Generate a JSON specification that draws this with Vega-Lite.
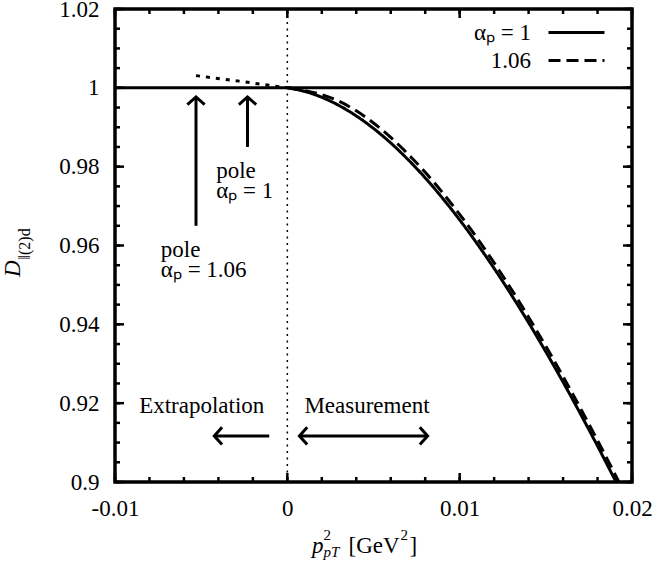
{
  "$schema": "https://vega.github.io/schema/vega-lite/v6.json",
  "width": 517,
  "height": 473,
  "autosize": {"type": "none"},
  "padding": {"left": 115, "top": 9, "right": 23, "bottom": 85},
  "background": "white",
  "config": {
    "font": "Liberation Serif",
    "view": {"stroke": "black", "strokeWidth": 3.5},
    "axis": {"domain": false, "grid": false, "title": null, "ticks": false, "labelColor": "black", "labelFont": "Liberation Serif", "labelFontSize": 23, "labelFlush": false, "labelOverlap": false, "labelBound": false}
  },
  "resolve": {"axis": {"x": "independent", "y": "independent"}},
  "datasets": {
    "curves": [
      {"series": "αₚ = 1", "x": 0, "y": 1},
      {"series": "αₚ = 1", "x": 0.001, "y": 0.9991},
      {"series": "αₚ = 1", "x": 0.002, "y": 0.9976},
      {"series": "αₚ = 1", "x": 0.003, "y": 0.99552},
      {"series": "αₚ = 1", "x": 0.004, "y": 0.99288},
      {"series": "αₚ = 1", "x": 0.005, "y": 0.9897},
      {"series": "αₚ = 1", "x": 0.006, "y": 0.98601},
      {"series": "αₚ = 1", "x": 0.007, "y": 0.98182},
      {"series": "αₚ = 1", "x": 0.008, "y": 0.97716},
      {"series": "αₚ = 1", "x": 0.009, "y": 0.97204},
      {"series": "αₚ = 1", "x": 0.01, "y": 0.9665},
      {"series": "αₚ = 1", "x": 0.011, "y": 0.96054},
      {"series": "αₚ = 1", "x": 0.012, "y": 0.95419},
      {"series": "αₚ = 1", "x": 0.013, "y": 0.94748},
      {"series": "αₚ = 1", "x": 0.014, "y": 0.94042},
      {"series": "αₚ = 1", "x": 0.015, "y": 0.93303},
      {"series": "αₚ = 1", "x": 0.016, "y": 0.92535},
      {"series": "αₚ = 1", "x": 0.017, "y": 0.91737},
      {"series": "αₚ = 1", "x": 0.018, "y": 0.90914},
      {"series": "αₚ = 1", "x": 0.019, "y": 0.90067},
      {"series": "αₚ = 1", "x": 0.01908, "y": 0.9},
      {"series": "1.06", "x": 0, "y": 1},
      {"series": "1.06", "x": 0.001, "y": 0.9993},
      {"series": "1.06", "x": 0.002, "y": 0.99826},
      {"series": "1.06", "x": 0.003, "y": 0.99659},
      {"series": "1.06", "x": 0.004, "y": 0.99417},
      {"series": "1.06", "x": 0.005, "y": 0.99107},
      {"series": "1.06", "x": 0.006, "y": 0.98741},
      {"series": "1.06", "x": 0.007, "y": 0.98322},
      {"series": "1.06", "x": 0.008, "y": 0.97856},
      {"series": "1.06", "x": 0.009, "y": 0.97344},
      {"series": "1.06", "x": 0.01, "y": 0.9679},
      {"series": "1.06", "x": 0.011, "y": 0.96194},
      {"series": "1.06", "x": 0.012, "y": 0.95559},
      {"series": "1.06", "x": 0.013, "y": 0.94888},
      {"series": "1.06", "x": 0.014, "y": 0.94182},
      {"series": "1.06", "x": 0.015, "y": 0.93443},
      {"series": "1.06", "x": 0.016, "y": 0.92675},
      {"series": "1.06", "x": 0.017, "y": 0.91877},
      {"series": "1.06", "x": 0.018, "y": 0.91054},
      {"series": "1.06", "x": 0.019, "y": 0.90207},
      {"series": "1.06", "x": 0.01924, "y": 0.9}
    ],
    "extrap": [
      {"x": -0.0053, "y": 1.0031},
      {"x": -0.0028, "y": 1.0017},
      {"x": 0, "y": 1}
    ],
    "arrows": [
      {"x": -0.0053, "y": 0.965, "x2": -0.0053, "y2": 0.9977},
      {"x": -0.00231, "y": 0.985, "x2": -0.00231, "y2": 0.9977},
      {"x": -0.00105, "y": 0.91168, "x2": -0.00424, "y2": 0.91168},
      {"x": 0.0007, "y": 0.91168, "x2": 0.00814, "y2": 0.91168}
    ],
    "heads": [
      {"x": -0.0053, "y": 0.9977, "dir": "up"},
      {"x": -0.00231, "y": 0.9977, "dir": "up"},
      {"x": -0.00424, "y": 0.91168, "dir": "left"},
      {"x": 0.0007, "y": 0.91168, "dir": "left"},
      {"x": 0.00814, "y": 0.91168, "dir": "right"}
    ],
    "notes": [
      {"x": -0.00413, "y": 0.97716, "label": ["pole", "αₚ = 1"]},
      {"x": -0.00734, "y": 0.95698, "label": ["pole", "αₚ = 1.06"]},
      {"x": -0.0086, "y": 0.91751, "label": "Extrapolation"},
      {"x": 0.00099, "y": 0.91751, "label": "Measurement"}
    ],
    "xmajor": [{"v": -0.01}, {"v": 0}, {"v": 0.01}, {"v": 0.02}],
    "xminor": [{"v": -0.01}, {"v": -0.008}, {"v": -0.006}, {"v": -0.004}, {"v": -0.002}, {"v": 0}, {"v": 0.002}, {"v": 0.004}, {"v": 0.006}, {"v": 0.008}, {"v": 0.01}, {"v": 0.012}, {"v": 0.014}, {"v": 0.016}, {"v": 0.018}, {"v": 0.02}],
    "ymajor": [{"v": 0.9}, {"v": 0.92}, {"v": 0.94}, {"v": 0.96}, {"v": 0.98}, {"v": 1}, {"v": 1.02}],
    "yminor": [{"v": 0.9}, {"v": 0.905}, {"v": 0.91}, {"v": 0.915}, {"v": 0.92}, {"v": 0.925}, {"v": 0.93}, {"v": 0.935}, {"v": 0.94}, {"v": 0.945}, {"v": 0.95}, {"v": 0.955}, {"v": 0.96}, {"v": 0.965}, {"v": 0.97}, {"v": 0.975}, {"v": 0.98}, {"v": 0.985}, {"v": 0.99}, {"v": 0.995}, {"v": 1}, {"v": 1.005}, {"v": 1.01}, {"v": 1.015}, {"v": 1.02}]
  },
  "layer": [
    {
      "data": {"name": "curves"},
      "mark": {"type": "line", "color": "black", "strokeWidth": 3, "interpolate": "monotone", "clip": true},
      "encoding": {
        "x": {"field": "x", "type": "quantitative", "scale": {"domain": [-0.01, 0.02], "nice": false, "zero": false},
          "axis": {"orient": "bottom", "values": [-0.01, 0, 0.01, 0.02], "labelExpr": "replace(format(datum.value, '~g'), '−', '-')", "labelPadding": 15, "labelFont": "Liberation Serif", "labelFontSize": 23}},
        "y": {"field": "y", "type": "quantitative", "scale": {"domain": [0.9, 1.02], "nice": false, "zero": false},
          "axis": {"orient": "left", "values": [0.9, 0.92, 0.94, 0.96, 0.98, 1, 1.02], "labelExpr": "format(datum.value, '~g')", "labelPadding": 16, "labelFont": "Liberation Serif", "labelFontSize": 23}},
        "strokeDash": {"field": "series", "type": "nominal", "scale": {"domain": ["αₚ = 1", "1.06"], "range": [[1, 0], [12, 6]]},
          "legend": {"title": null, "orient": "none", "legendX": 446, "legendY": 8, "symbolType": "M-2,0L2,0", "symbolSize": 784, "symbolStrokeWidth": 3, "symbolStrokeColor": "black", "symbolOpacity": 1, "labelFont": "Liberation Serif", "labelFontSize": 23, "labelColor": "black", "labelAlign": "right", "labelOffset": -61, "rowPadding": -1, "padding": 0}}
      }
    },
    {
      "data": {"name": "extrap"},
      "mark": {"type": "line", "color": "black", "strokeWidth": 3, "strokeDash": [4, 6]},
      "encoding": {
        "x": {"field": "x", "type": "quantitative", "scale": {"domain": [-0.01, 0.02], "nice": false, "zero": false}, "axis": null},
        "y": {"field": "y", "type": "quantitative", "scale": {"domain": [0.9, 1.02], "nice": false, "zero": false}, "axis": null}
      }
    },
    {
      "data": {"name": "xmajor"},
      "mark": {"type": "tick", "orient": "vertical", "size": 9, "thickness": 2.5, "color": "black", "opacity": 1, "yOffset": -4.5},
      "encoding": {
        "x": {"field": "v", "type": "quantitative", "scale": {"domain": [-0.01, 0.02], "nice": false, "zero": false}, "axis": null},
        "y": {"datum": 0.9, "type": "quantitative", "scale": {"domain": [0.9, 1.02], "nice": false, "zero": false}, "axis": null}
      }
    },
    {
      "data": {"name": "xmajor"},
      "mark": {"type": "tick", "orient": "vertical", "size": 9, "thickness": 2.5, "color": "black", "opacity": 1, "yOffset": 4.5},
      "encoding": {
        "x": {"field": "v", "type": "quantitative", "scale": {"domain": [-0.01, 0.02], "nice": false, "zero": false}, "axis": null},
        "y": {"datum": 1.02, "type": "quantitative", "scale": {"domain": [0.9, 1.02], "nice": false, "zero": false}, "axis": null}
      }
    },
    {
      "data": {"name": "xminor"},
      "mark": {"type": "tick", "orient": "vertical", "size": 5, "thickness": 2.5, "color": "black", "opacity": 1, "yOffset": -2.5},
      "encoding": {
        "x": {"field": "v", "type": "quantitative", "scale": {"domain": [-0.01, 0.02], "nice": false, "zero": false}, "axis": null},
        "y": {"datum": 0.9, "type": "quantitative", "scale": {"domain": [0.9, 1.02], "nice": false, "zero": false}, "axis": null}
      }
    },
    {
      "data": {"name": "xminor"},
      "mark": {"type": "tick", "orient": "vertical", "size": 5, "thickness": 2.5, "color": "black", "opacity": 1, "yOffset": 2.5},
      "encoding": {
        "x": {"field": "v", "type": "quantitative", "scale": {"domain": [-0.01, 0.02], "nice": false, "zero": false}, "axis": null},
        "y": {"datum": 1.02, "type": "quantitative", "scale": {"domain": [0.9, 1.02], "nice": false, "zero": false}, "axis": null}
      }
    },
    {
      "data": {"name": "ymajor"},
      "mark": {"type": "tick", "orient": "horizontal", "size": 9, "thickness": 2.5, "color": "black", "opacity": 1, "xOffset": 4.5},
      "encoding": {
        "y": {"field": "v", "type": "quantitative", "scale": {"domain": [0.9, 1.02], "nice": false, "zero": false}, "axis": null},
        "x": {"datum": -0.01, "type": "quantitative", "scale": {"domain": [-0.01, 0.02], "nice": false, "zero": false}, "axis": null}
      }
    },
    {
      "data": {"name": "ymajor"},
      "mark": {"type": "tick", "orient": "horizontal", "size": 9, "thickness": 2.5, "color": "black", "opacity": 1, "xOffset": -4.5},
      "encoding": {
        "y": {"field": "v", "type": "quantitative", "scale": {"domain": [0.9, 1.02], "nice": false, "zero": false}, "axis": null},
        "x": {"datum": 0.02, "type": "quantitative", "scale": {"domain": [-0.01, 0.02], "nice": false, "zero": false}, "axis": null}
      }
    },
    {
      "data": {"name": "yminor"},
      "mark": {"type": "tick", "orient": "horizontal", "size": 5, "thickness": 2.5, "color": "black", "opacity": 1, "xOffset": 2.5},
      "encoding": {
        "y": {"field": "v", "type": "quantitative", "scale": {"domain": [0.9, 1.02], "nice": false, "zero": false}, "axis": null},
        "x": {"datum": -0.01, "type": "quantitative", "scale": {"domain": [-0.01, 0.02], "nice": false, "zero": false}, "axis": null}
      }
    },
    {
      "data": {"name": "yminor"},
      "mark": {"type": "tick", "orient": "horizontal", "size": 5, "thickness": 2.5, "color": "black", "opacity": 1, "xOffset": -2.5},
      "encoding": {
        "y": {"field": "v", "type": "quantitative", "scale": {"domain": [0.9, 1.02], "nice": false, "zero": false}, "axis": null},
        "x": {"datum": 0.02, "type": "quantitative", "scale": {"domain": [-0.01, 0.02], "nice": false, "zero": false}, "axis": null}
      }
    },
    {
      "data": {"name": "arrows"},
      "mark": {"type": "rule", "color": "black", "strokeWidth": 3},
      "encoding": {
        "x": {"field": "x", "type": "quantitative", "scale": {"domain": [-0.01, 0.02], "nice": false, "zero": false}, "axis": null},
        "x2": {"field": "x2"},
        "y": {"field": "y", "type": "quantitative", "scale": {"domain": [0.9, 1.02], "nice": false, "zero": false}, "axis": null},
        "y2": {"field": "y2"}
      }
    },
    {
      "data": {"name": "heads"},
      "transform": [{"filter": "datum.dir === 'up'"}],
      "mark": {"type": "point", "shape": "M-1,0.9L0,0L1,0.9", "filled": false, "stroke": "black", "strokeWidth": 3, "strokeJoin": "miter", "size": 300, "opacity": 1, "angle": 0},
      "encoding": {
        "x": {"field": "x", "type": "quantitative", "scale": {"domain": [-0.01, 0.02], "nice": false, "zero": false}, "axis": null},
        "y": {"field": "y", "type": "quantitative", "scale": {"domain": [0.9, 1.02], "nice": false, "zero": false}, "axis": null}
      }
    },
    {
      "data": {"name": "heads"},
      "transform": [{"filter": "datum.dir === 'left'"}],
      "mark": {"type": "point", "shape": "M-1,0.9L0,0L1,0.9", "filled": false, "stroke": "black", "strokeWidth": 3, "strokeJoin": "miter", "size": 300, "opacity": 1, "angle": 270},
      "encoding": {
        "x": {"field": "x", "type": "quantitative", "scale": {"domain": [-0.01, 0.02], "nice": false, "zero": false}, "axis": null},
        "y": {"field": "y", "type": "quantitative", "scale": {"domain": [0.9, 1.02], "nice": false, "zero": false}, "axis": null}
      }
    },
    {
      "data": {"name": "heads"},
      "transform": [{"filter": "datum.dir === 'right'"}],
      "mark": {"type": "point", "shape": "M-1,0.9L0,0L1,0.9", "filled": false, "stroke": "black", "strokeWidth": 3, "strokeJoin": "miter", "size": 300, "opacity": 1, "angle": 90},
      "encoding": {
        "x": {"field": "x", "type": "quantitative", "scale": {"domain": [-0.01, 0.02], "nice": false, "zero": false}, "axis": null},
        "y": {"field": "y", "type": "quantitative", "scale": {"domain": [0.9, 1.02], "nice": false, "zero": false}, "axis": null}
      }
    },
    {
      "data": {"values": [{}]},
      "mark": {"type": "rule", "color": "black", "strokeWidth": 3},
      "encoding": {
        "y": {"datum": 1, "type": "quantitative", "scale": {"domain": [0.9, 1.02], "nice": false, "zero": false}, "axis": null}
      }
    },
    {
      "data": {"values": [{}]},
      "mark": {"type": "rule", "color": "black", "strokeWidth": 1.5, "strokeDash": [2, 4.5]},
      "encoding": {
        "x": {"datum": 0, "type": "quantitative", "scale": {"domain": [-0.01, 0.02], "nice": false, "zero": false}, "axis": null}
      }
    },
    {
      "data": {"name": "notes"},
      "mark": {"type": "text", "align": "left", "baseline": "alphabetic", "font": "Liberation Serif", "fontSize": 23, "lineHeight": 20, "color": "black"},
      "encoding": {
        "x": {"field": "x", "type": "quantitative", "scale": {"domain": [-0.01, 0.02], "nice": false, "zero": false}, "axis": null},
        "y": {"field": "y", "type": "quantitative", "scale": {"domain": [0.9, 1.02], "nice": false, "zero": false}, "axis": null},
        "text": {"field": "label"}
      }
    },
    {
      "data": {"values": [{}]},
      "mark": {"type": "text", "text": "D", "font": "Liberation Serif", "fontStyle": "italic", "fontSize": 23, "angle": 270, "align": "left", "baseline": "alphabetic", "dx": -31.5, "dy": -95, "color": "black"},
      "encoding": {
        "x": {"datum": -0.01, "type": "quantitative", "scale": {"domain": [-0.01, 0.02], "nice": false, "zero": false}, "axis": null},
        "y": {"datum": 0.96, "type": "quantitative", "scale": {"domain": [0.9, 1.02], "nice": false, "zero": false}, "axis": null}
      }
    },
    {
      "data": {"values": [{}]},
      "mark": {"type": "text", "text": "‖(2)d", "font": "Liberation Serif", "fontSize": 16, "angle": 270, "align": "left", "baseline": "alphabetic", "dx": -14, "dy": -85, "color": "black"},
      "encoding": {
        "x": {"datum": -0.01, "type": "quantitative", "scale": {"domain": [-0.01, 0.02], "nice": false, "zero": false}, "axis": null},
        "y": {"datum": 0.96, "type": "quantitative", "scale": {"domain": [0.9, 1.02], "nice": false, "zero": false}, "axis": null}
      }
    },
    {
      "data": {"values": [{}]},
      "mark": {"type": "text", "text": "p", "font": "Liberation Serif", "fontStyle": "italic", "fontSize": 23, "align": "left", "baseline": "alphabetic", "dx": -61.5, "dy": 71, "color": "black"},
      "encoding": {
        "x": {"datum": 0.005, "type": "quantitative", "scale": {"domain": [-0.01, 0.02], "nice": false, "zero": false}, "axis": null},
        "y": {"datum": 0.9, "type": "quantitative", "scale": {"domain": [0.9, 1.02], "nice": false, "zero": false}, "axis": null}
      }
    },
    {
      "data": {"values": [{}]},
      "mark": {"type": "text", "text": "2", "font": "Liberation Serif", "fontSize": 15, "align": "left", "baseline": "alphabetic", "dx": -50, "dy": 58, "color": "black"},
      "encoding": {
        "x": {"datum": 0.005, "type": "quantitative", "scale": {"domain": [-0.01, 0.02], "nice": false, "zero": false}, "axis": null},
        "y": {"datum": 0.9, "type": "quantitative", "scale": {"domain": [0.9, 1.02], "nice": false, "zero": false}, "axis": null}
      }
    },
    {
      "data": {"values": [{}]},
      "mark": {"type": "text", "text": "pT", "font": "Liberation Serif", "fontStyle": "italic", "fontSize": 15, "align": "left", "baseline": "alphabetic", "dx": -50, "dy": 75, "color": "black"},
      "encoding": {
        "x": {"datum": 0.005, "type": "quantitative", "scale": {"domain": [-0.01, 0.02], "nice": false, "zero": false}, "axis": null},
        "y": {"datum": 0.9, "type": "quantitative", "scale": {"domain": [0.9, 1.02], "nice": false, "zero": false}, "axis": null}
      }
    },
    {
      "data": {"values": [{}]},
      "mark": {"type": "text", "text": "[GeV", "font": "Liberation Serif", "fontSize": 23, "align": "left", "baseline": "alphabetic", "dx": -25, "dy": 71, "color": "black"},
      "encoding": {
        "x": {"datum": 0.005, "type": "quantitative", "scale": {"domain": [-0.01, 0.02], "nice": false, "zero": false}, "axis": null},
        "y": {"datum": 0.9, "type": "quantitative", "scale": {"domain": [0.9, 1.02], "nice": false, "zero": false}, "axis": null}
      }
    },
    {
      "data": {"values": [{}]},
      "mark": {"type": "text", "text": "2", "font": "Liberation Serif", "fontSize": 15, "align": "left", "baseline": "alphabetic", "dx": 27, "dy": 58, "color": "black"},
      "encoding": {
        "x": {"datum": 0.005, "type": "quantitative", "scale": {"domain": [-0.01, 0.02], "nice": false, "zero": false}, "axis": null},
        "y": {"datum": 0.9, "type": "quantitative", "scale": {"domain": [0.9, 1.02], "nice": false, "zero": false}, "axis": null}
      }
    },
    {
      "data": {"values": [{}]},
      "mark": {"type": "text", "text": "]", "font": "Liberation Serif", "fontSize": 23, "align": "left", "baseline": "alphabetic", "dx": 36, "dy": 71, "color": "black"},
      "encoding": {
        "x": {"datum": 0.005, "type": "quantitative", "scale": {"domain": [-0.01, 0.02], "nice": false, "zero": false}, "axis": null},
        "y": {"datum": 0.9, "type": "quantitative", "scale": {"domain": [0.9, 1.02], "nice": false, "zero": false}, "axis": null}
      }
    }
  ]
}
